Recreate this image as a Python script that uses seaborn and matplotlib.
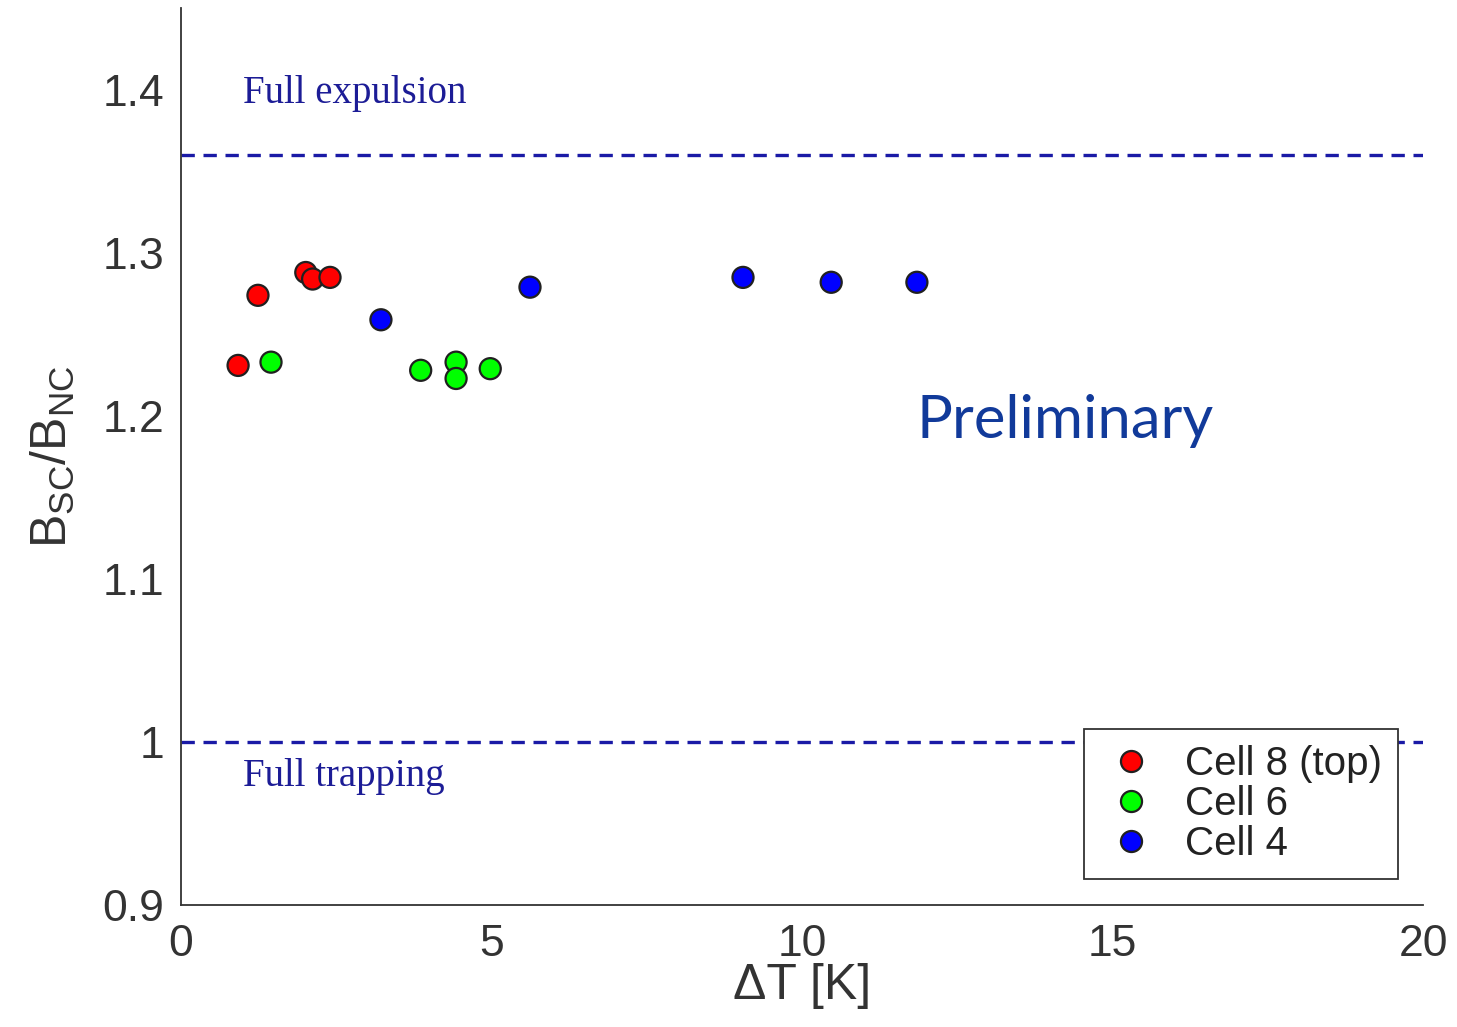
import seaborn as sns
import matplotlib
matplotlib.use('Agg')
import matplotlib.pyplot as plt
import pandas as pd

# data
cell8_dt = [0.92, 1.24, 2.01, 2.12, 2.40]
cell8_b = [1.231, 1.274, 1.288, 1.284, 1.285]
cell6_dt = [1.45, 3.86, 4.43, 4.43, 4.98]
cell6_b = [1.233, 1.228, 1.233, 1.223, 1.229]
cell4_dt = [3.22, 5.62, 9.05, 10.47, 11.85]
cell4_b = [1.259, 1.279, 1.285, 1.282, 1.282]
cell_names = ['Cell 8 (top)', 'Cell 6', 'Cell 4']
cell_colors = ['#ff0000', '#00ff00', '#0000ff']
full_expulsion = 1.36
full_trapping = 1.0

data = pd.DataFrame({
    'dT': cell8_dt + cell6_dt + cell4_dt,
    'ratio': cell8_b + cell6_b + cell4_b,
    'cell': [cell_names[0]] * len(cell8_dt) + [cell_names[1]] * len(cell6_dt)
            + [cell_names[2]] * len(cell4_dt),
})

sns.set_style('white')
plt.rcParams['font.family'] = ['Liberation Sans', 'DejaVu Sans']
plt.rcParams['mathtext.fontset'] = 'custom'
plt.rcParams['mathtext.rm'] = 'Liberation Sans'

fig = plt.figure(figsize=(14.57, 10.27), dpi=100)
ax = fig.add_axes([0.1242, 0.1188, 0.8525, 0.873])

line_col = '#1a1aa6'
ax.axhline(full_expulsion, color=line_col, lw=2.4, ls=(0, (4, 2.6)))
ax.axhline(full_trapping, color=line_col, lw=2.4, ls=(0, (4, 2.6)))

sns.scatterplot(data=data, x='dT', y='ratio', hue='cell', hue_order=cell_names,
                palette=cell_colors, s=230, edgecolor='#202020', linewidth=1.6,
                ax=ax, zorder=3)

ax.set_xlim(0, 20)
ax.set_ylim(0.9, 1.45)
ax.set_xticks([0, 5, 10, 15, 20])
ax.set_yticks([0.9, 1.0, 1.1, 1.2, 1.3, 1.4])
ax.set_yticklabels(['0.9', '1', '1.1', '1.2', '1.3', '1.4'])
ax.tick_params(axis='both', labelsize=32, colors='#333333', direction='in',
               length=8, width=1.2)
ax.tick_params(axis='y', pad=12)
ax.tick_params(axis='x', pad=14)
for side in ['top', 'right']:
    ax.spines[side].set_visible(False)
for side in ['left', 'bottom']:
    ax.spines[side].set_color('#333333')
    ax.spines[side].set_linewidth(1.3)

ax.set_xlabel('ΔT [K]', fontsize=36, color='#333333', labelpad=-2)
ax.set_ylabel(r'B$_{\mathrm{SC}}$/B$_{\mathrm{NC}}$', fontsize=36,
              color='#333333', labelpad=18)

ax.text(1.0, 1.398, 'Full expulsion', fontsize=28, color='#1c1c96',
        family='Liberation Serif', va='center')
ax.text(1.0, 0.979, 'Full trapping', fontsize=28, color='#1c1c96',
        family='Liberation Serif', va='center')
ax.text(11.85, 1.197, 'Preliminary', fontsize=43, color='#113a9a',
        family='Lato', va='center')

leg = ax.legend(loc='lower right', bbox_to_anchor=(0.98, 0.029), fontsize=29,
                frameon=True, fancybox=False, edgecolor='#333333',
                framealpha=1.0, handletextpad=0.6, borderpad=0.4,
                labelspacing=0.05, markerscale=1.0, handlelength=1.5,
                borderaxespad=0)
leg.get_frame().set_linewidth(1.3)
for t in leg.get_texts():
    t.set_color('#222222')

fig.savefig('out.png', dpi=100)
